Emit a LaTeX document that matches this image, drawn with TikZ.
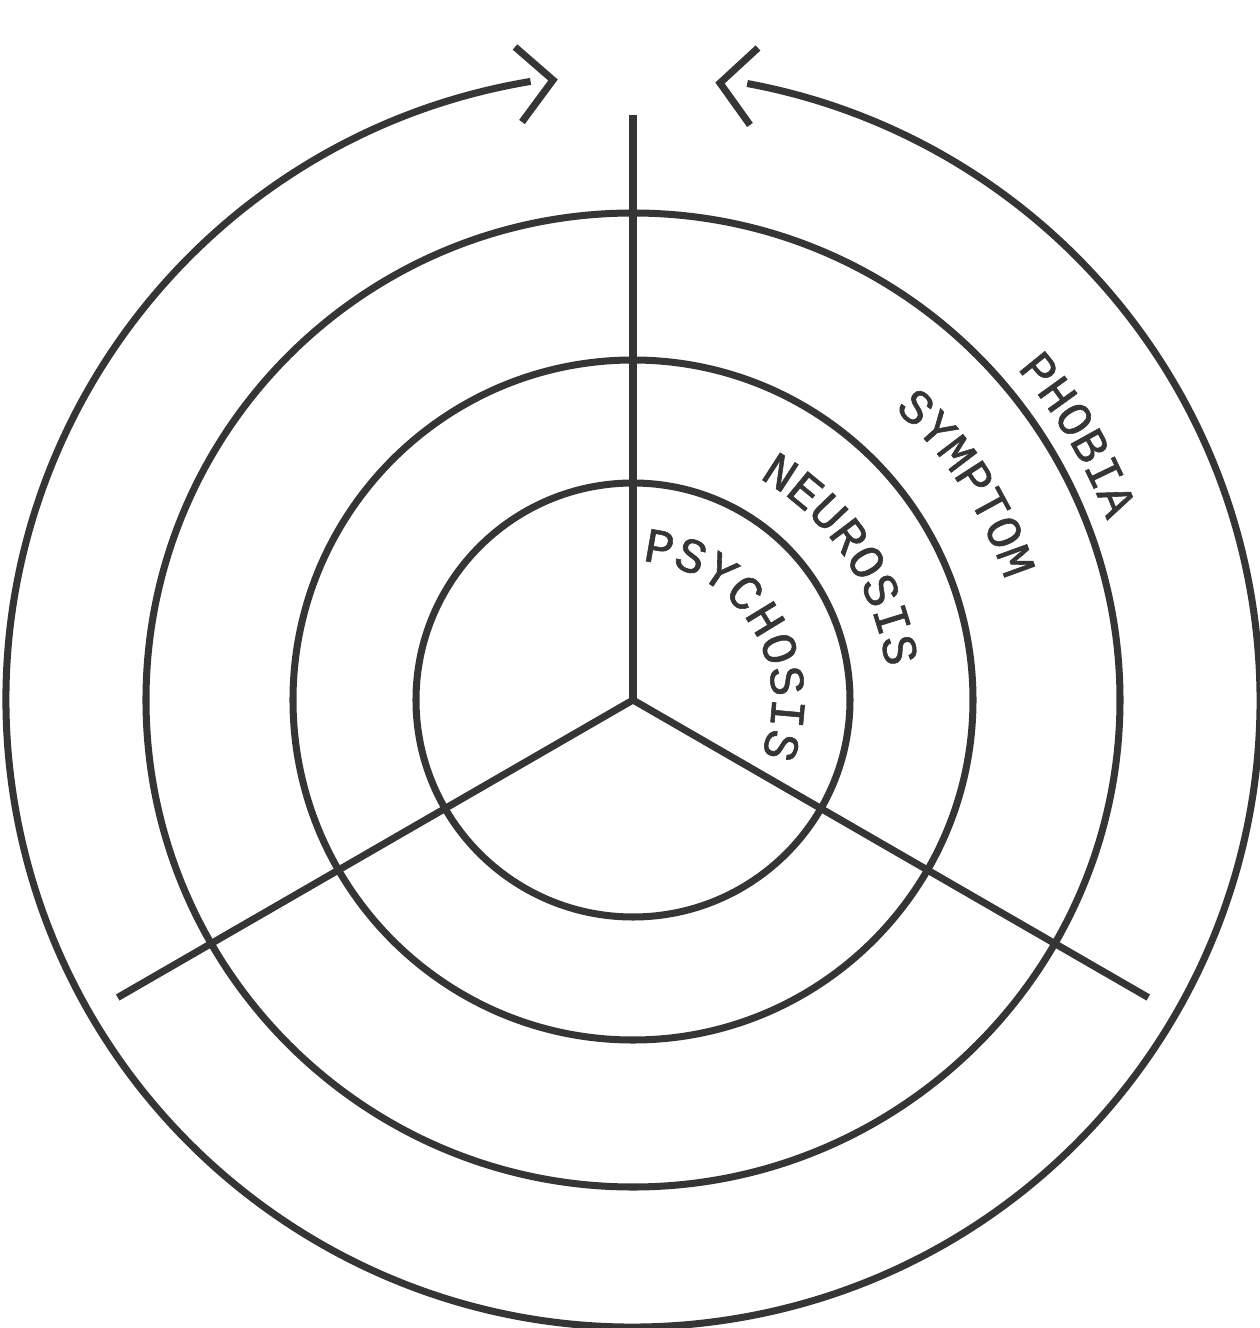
\documentclass[tikz,border=0pt]{standalone}
\usepackage{fontspec}
\newfontfamily\ringfont[FakeBold=1.2]{Liberation Mono}
\usetikzlibrary{decorations.text}
\definecolor{ink}{RGB}{53,53,53}

\begin{document}
\begin{tikzpicture}[x=0.02cm, y=0.02cm,
  ring/.style={draw=ink, line width=4pt},
  barb/.style={draw=ink, line width=4pt, miter limit=10},
  ringtext/.style={decorate, decoration={text along path, text align=center,
    text color=ink, text={|\ringfont\fontsize{28}{28}\selectfont|#1}}}
]
\useasboundingbox (-633,-628) rectangle (626,700);
\coordinate (c) at (0,0);

% rings
\draw[ring] (c) circle[radius=217];
\draw[ring] (c) circle[radius=340];
\draw[ring] (c) circle[radius=487];

% spokes
\coordinate (top) at (90:585);
\coordinate (lower left) at (210:595);
\coordinate (lower right) at (-30:595);
\draw[ring] (c) -- (top);
\draw[ring] (c) -- (lower left);
\draw[ring] (c) -- (lower right);

% outer loop with open heads
\coordinate (loop start) at (99.4:627);
\draw[ring] (loop start) arc[start angle=99.4, end angle=439.5, radius=627];
\draw[barb] (-118,653) -- (-80,620) -- (-111,578);
\draw[barb] (125,652) -- (87,617) -- (117,575);

% labels
\path[ringtext=PSYCHOSIS] (111.45:139) arc[start angle=111.45, end angle=-48.55, radius=139];
\path[ringtext=NEUROSIS] (113.85:255) arc[start angle=113.85, end angle=-46.15, radius=255];
\path[ringtext=SYMPTOM] (112.95:391) arc[start angle=112.95, end angle=-47.05, radius=391];
\path[ringtext=PHOBIA] (110.75:507) arc[start angle=110.75, end angle=-49.25, radius=507];
\end{tikzpicture}
\end{document}
